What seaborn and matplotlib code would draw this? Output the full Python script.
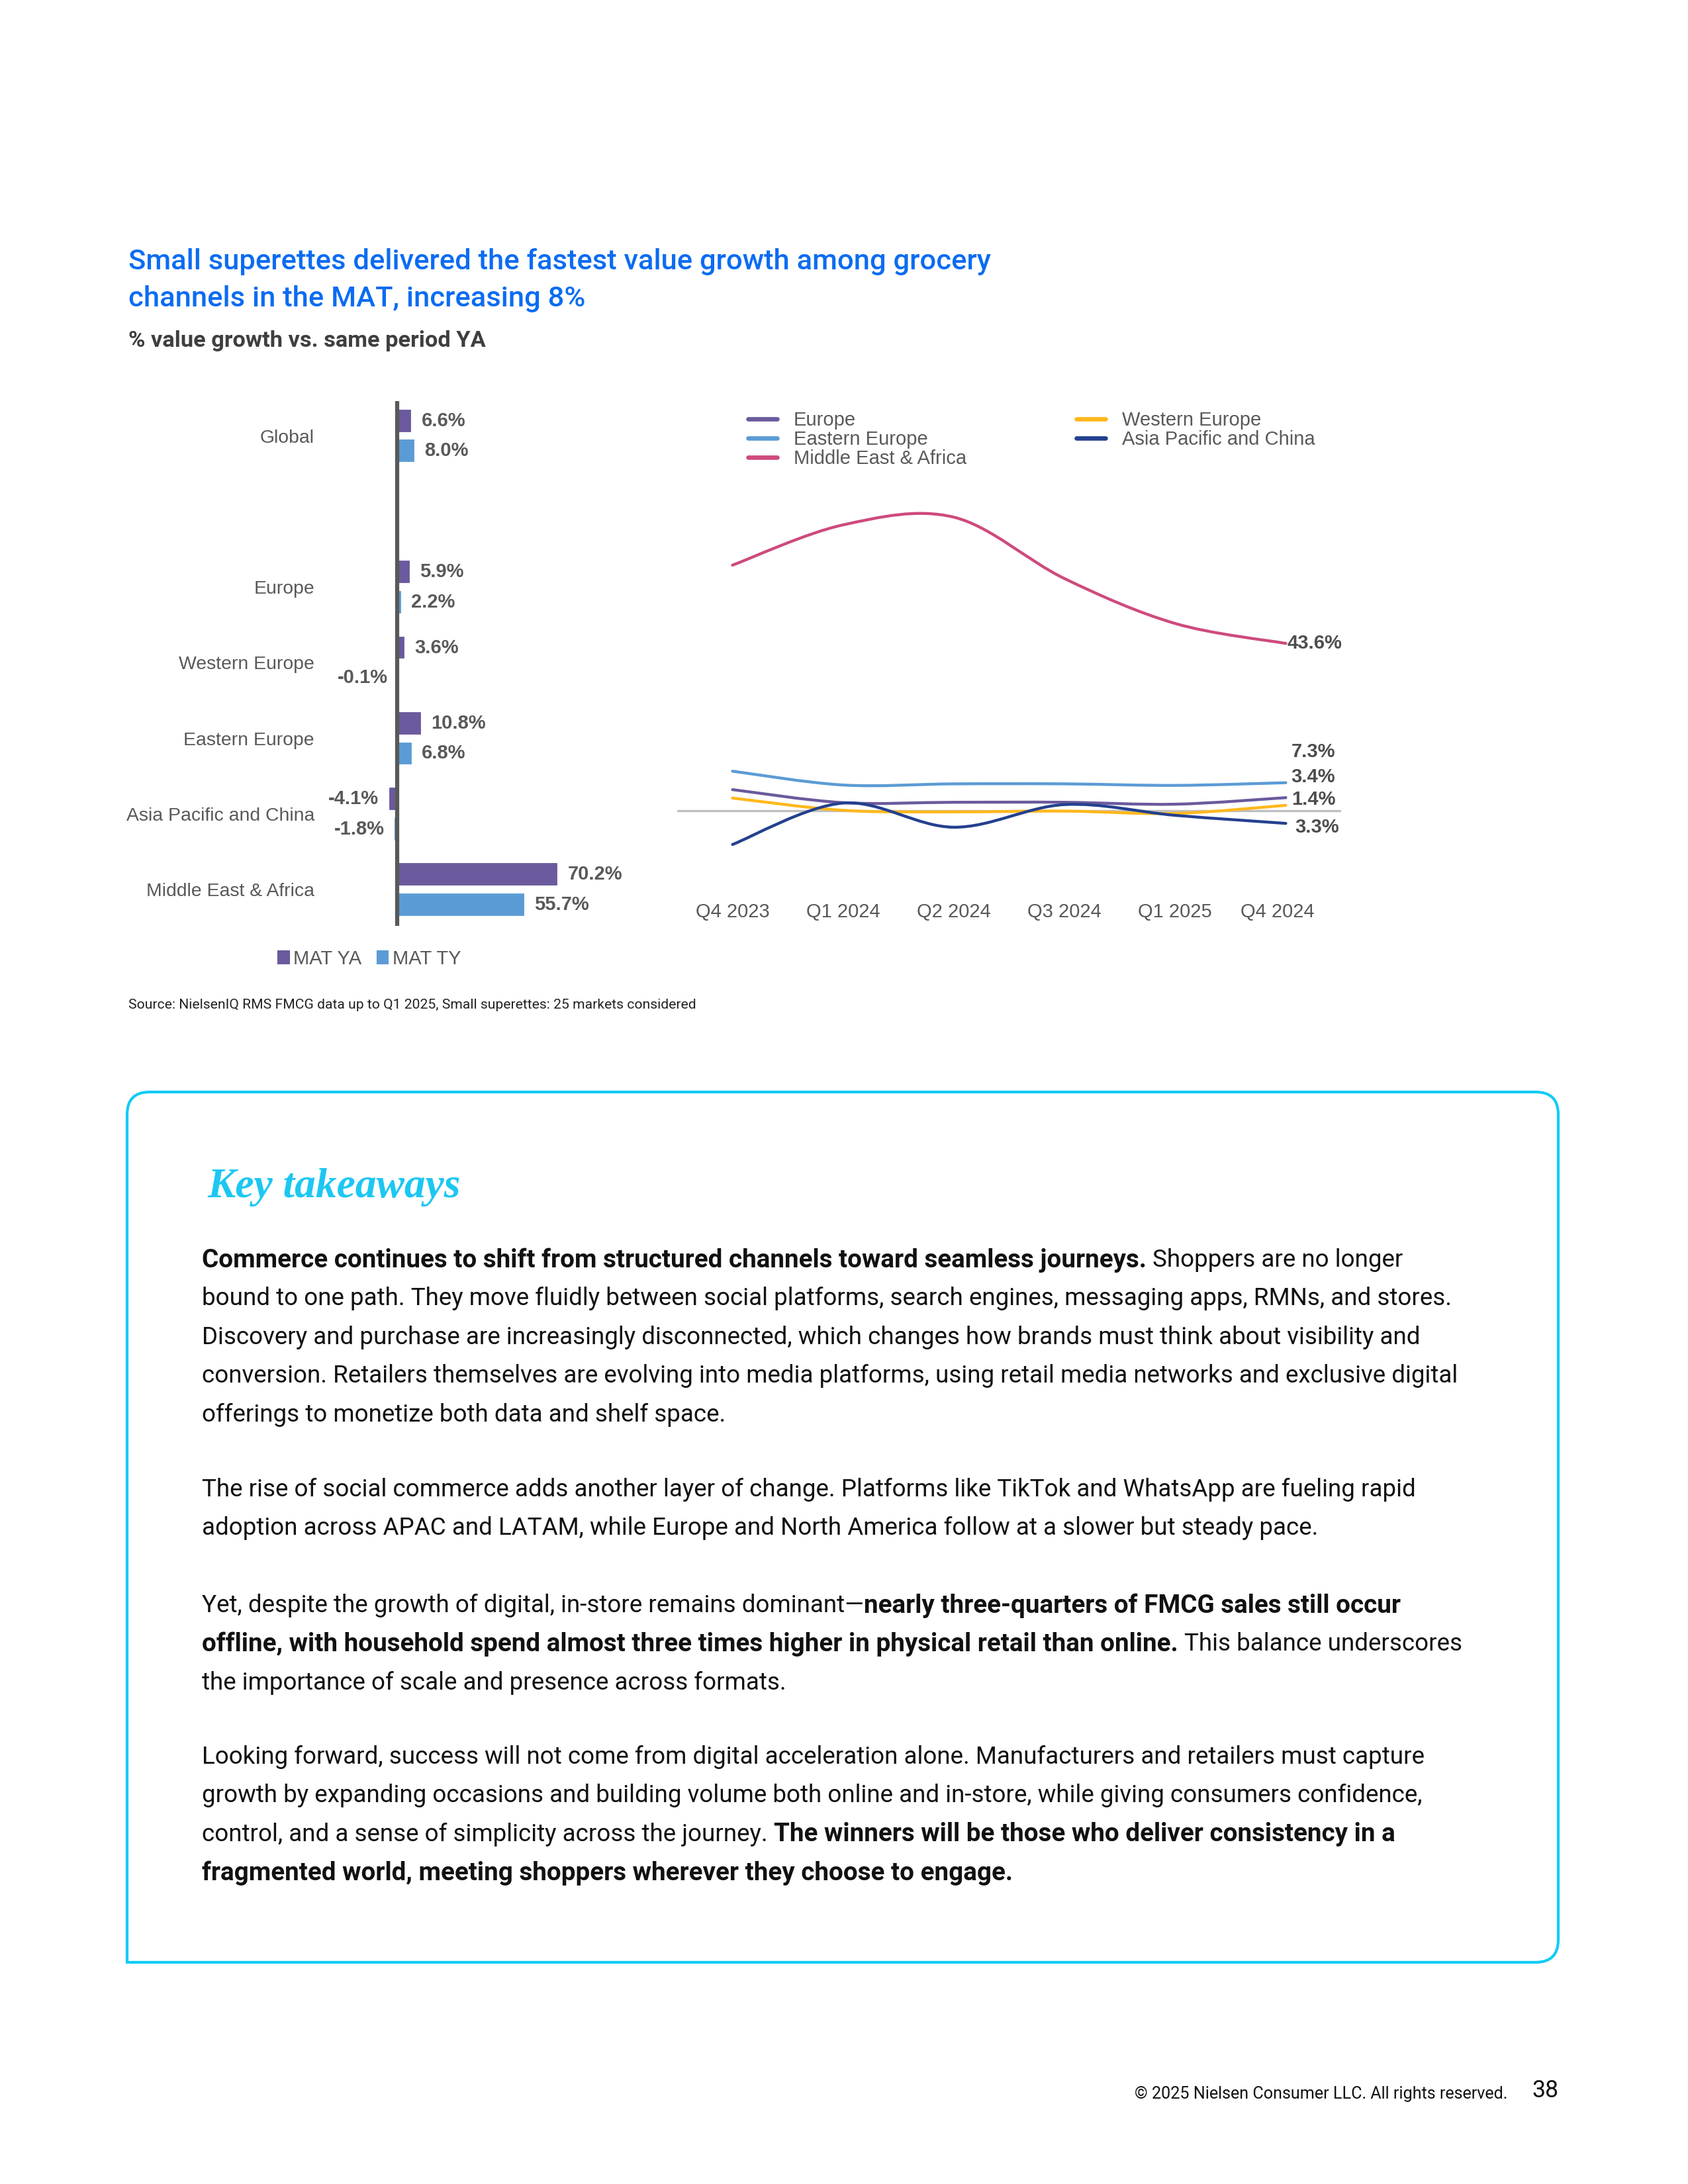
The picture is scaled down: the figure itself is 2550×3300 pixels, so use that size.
import numpy as np
import pandas as pd
import seaborn as sns
import matplotlib.pyplot as plt
from matplotlib.path import Path
from matplotlib.patches import PathPatch, Patch
from matplotlib.lines import Line2D
from matplotlib.transforms import ScaledTranslation

# ---- bar chart data (% value growth, small superettes) ----
regions = ['Global', 'Europe', 'Western Europe', 'Eastern Europe',
           'Asia Pacific and China', 'Middle East & Africa']
mat_ya = [6.6, 5.9, 3.6, 10.8, -4.1, 70.2]
mat_ty = [8.0, 2.2, -0.1, 6.8, -1.8, 55.7]
periods = ['MAT YA', 'MAT TY']

# ---- line chart data (quarterly growth) ----
quarters = ['Q4 2023', 'Q1 2024', 'Q2 2024', 'Q3 2024', 'Q1 2025', 'Q4 2024']
europe = [5.5, 2.1, 2.2, 2.2, 1.7, 3.4]
western_europe = [3.3, 0.1, -0.3, -0.1, -0.7, 1.4]
eastern_europe = [10.3, 6.7, 7.0, 7.0, 6.6, 7.3]
asia_pacific = [-8.8, 2.0, -4.3, 1.6, -1.2, -3.3]
middle_east_africa = [64.0, 74.5, 76.5, 60.5, 48.8, 43.6]
end_labels = ['3.4%', '1.4%', '7.3%', '3.3%', '43.6%']   # as printed on the chart

purple = '#6B5A9D'
lblue = '#5B9BD5'
pink = '#CE4A7E'
gold = '#FFB81C'
navy = '#24408E'
grey_txt = '#595959'

sns.set_theme(style='white')
plt.rcParams['font.family'] = ['Liberation Sans', 'DejaVu Sans']

W, H = 2550, 3300
fig = plt.figure(figsize=(8.5, 11), dpi=300)
fig.patch.set_facecolor('white')


def px_box(l, t, r, b):
    return [l / W, 1 - b / H, (r - l) / W, (b - t) / H]


# page layer in pixel units for the text and the box
page = fig.add_axes([0, 0, 1, 1])
page.set_xlim(0, W)
page.set_ylim(H, 0)
page.axis('off')
renderer = fig.canvas.get_renderer()


def fitted_text(x, y, s, width, **kw):
    t = page.text(x, y, s, fontsize=10, **kw)
    w = t.get_window_extent(renderer).width
    t.set_fontsize(10 * width / w)
    return t


# ---- titles ----
blue = '#0B6CF2'
t1 = fitted_text(194, 395, 'Small superettes delivered the fastest value growth among grocery', 1298,
                 family='Roboto', weight='medium', color=blue, va='center')
page.text(194, 452, 'channels in the MAT, increasing 8%', fontsize=t1.get_fontsize(),
          family='Roboto', weight='medium', color=blue, va='center')
fitted_text(194, 515, '% value growth vs. same period YA', 539,
            family='Roboto', weight='bold', color='#3F3F3F', va='center')

# ---- bar chart ----
ax1 = fig.add_axes(px_box(480, 606, 960, 1399))
bar_df = pd.DataFrame({'region': regions * 2,
                       'period': [periods[0]] * len(regions) + [periods[1]] * len(regions),
                       'value': mat_ya + mat_ty})
order = regions[:1] + [' '] + regions[1:]
sns.barplot(data=bar_df, x='value', y='region', hue='period', order=order, hue_order=periods,
            palette=[purple, lblue], orient='h', width=0.8, gap=0.17, errorbar=None,
            saturation=1, legend=False, ax=ax1)
ax1.set_xlim(-34.5, 103.4)
ax1.set_ylim(6.48, -0.46)
ax1.set_xlabel('')
ax1.set_ylabel('')
ax1.xaxis.set_visible(False)
ax1.tick_params(axis='y', length=0, pad=1.2, labelsize=6.8, labelcolor=grey_txt)
sns.despine(ax=ax1, left=True, bottom=True)
ax1.axvline(0, color=grey_txt, lw=1.5, zorder=3)
for cont in ax1.containers:
    ax1.bar_label(cont, fmt='{:.1f}%', padding=3.2, fontsize=7, fontweight='bold', color=grey_txt)

fig.legend(handles=[Patch(color=purple, label=periods[0]), Patch(color=lblue, label=periods[1])],
           ncol=2, loc='center left', bbox_to_anchor=(421 / W, 1 - 1449 / H), frameon=False,
           fontsize=7, labelcolor=grey_txt, handlelength=0.5, handleheight=0.5,
           handletextpad=0.25, columnspacing=0.85, borderpad=0, borderaxespad=0)

# ---- line chart ----
ax2 = fig.add_axes(px_box(1023, 720, 2026, 1345))
ax2.set_xlim(-0.5, 5.5)
ax2.set_ylim(-20.7, 87.1)
ax2.axhline(0, color='#BFBFBF', lw=0.8, zorder=1)


def smooth_path(xs, ys):
    # Excel style smoothed line: cubic Bezier through every point
    pts = np.column_stack([xs, ys]).astype(float)
    p = np.vstack([pts[0], pts, pts[-1]])
    verts, codes = [pts[0]], [Path.MOVETO]
    for i in range(1, len(p) - 2):
        verts += [p[i] + (p[i + 1] - p[i - 1]) / 6, p[i + 1] - (p[i + 2] - p[i]) / 6, p[i + 1]]
        codes += [Path.CURVE4] * 3
    return Path(verts, codes)


xs = np.arange(len(quarters))
series = [('Europe', europe, purple), ('Western Europe', western_europe, gold),
          ('Eastern Europe', eastern_europe, lblue), ('Asia Pacific and China', asia_pacific, navy),
          ('Middle East & Africa', middle_east_africa, pink)]
label_offsets = [(2, 7.4), (2, 2.2), (2, 11.3), (3.3, -1.4), (0.5, 0)]
for (name, vals, col), lab, off in zip(series, end_labels, label_offsets):
    ax2.add_patch(PathPatch(smooth_path(xs, vals), fill=False, edgecolor=col, lw=1.05,
                            capstyle='round', joinstyle='round', zorder=2))
    ax2.annotate(lab, xy=(xs[-1], vals[-1]), xytext=off, textcoords='offset points',
                 ha='left', va='center', fontsize=7, fontweight='bold', color='#4D4D4D')

ax2.set_xticks(xs)
ax2.set_xticklabels(quarters)
ax2.tick_params(axis='x', length=0, pad=4.5, labelsize=7, labelcolor=grey_txt)
ax2.set_yticks([])
last = ax2.get_xticklabels()[-1]
last.set_transform(last.get_transform() + ScaledTranslation(-3 / 72, 0, fig.dpi_scale_trans))
sns.despine(ax=ax2, left=True, bottom=True)

leg_items = [series[0], series[2], series[4], series[1], series[3]]
fig.legend(handles=[Line2D([], [], color=c, lw=1.6, label=n) for n, v, c in leg_items],
           ncol=2, loc='upper left', bbox_to_anchor=(1130 / W, 1 - 621 / H), frameon=False,
           fontsize=7, labelcolor=grey_txt, handlelength=1.5, handletextpad=0.86,
           columnspacing=5.7, labelspacing=0.03, borderpad=0, borderaxespad=0)

# ---- source ----
fitted_text(194, 1519, 'Source: NielsenIQ RMS FMCG data up to Q1 2025, Small superettes: 25 markets considered',
            854, family='Roboto', color='#222222', va='center')

# ---- key takeaways box ----
cyan = '#12CCF5'
L, T, R, B, rad = 192, 1650, 2354, 2965, 34
box_path = Path([(L, B), (L, T + rad), (L, T), (L + rad, T), (R - rad, T), (R, T), (R, T + rad),
                 (R, B - rad), (R, B), (R - rad, B), (L, B)],
                [Path.MOVETO, Path.LINETO, Path.CURVE3, Path.CURVE3, Path.LINETO, Path.CURVE3,
                 Path.CURVE3, Path.LINETO, Path.CURVE3, Path.CURVE3, Path.CLOSEPOLY])
page.add_patch(PathPatch(box_path, fill=False, edgecolor=cyan, lw=1.0, joinstyle='miter'))

fitted_text(313, 1794, 'Key takeaways', 383, family='Liberation Serif', weight='bold',
            style='italic', color='#1CC7F2', va='center')

paragraphs = [
    [[('Commerce continues to shift from structured channels toward seamless journeys.', True),
      (' Shoppers are no longer', False)],
     [('bound to one path. They move fluidly between social platforms, search engines, messaging apps, RMNs, and stores.', False)],
     [('Discovery and purchase are increasingly disconnected, which changes how brands must think about visibility and', False)],
     [('conversion. Retailers themselves are evolving into media platforms, using retail media networks and exclusive digital', False)],
     [('offerings to monetize both data and shelf space.', False)]],
    [[('The rise of social commerce adds another layer of change. Platforms like TikTok and WhatsApp are fueling rapid', False)],
     [('adoption across APAC and LATAM, while Europe and North America follow at a slower but steady pace.', False)]],
    [[('Yet, despite the growth of digital, in-store remains dominant\u2014', False),
      ('nearly three-quarters of FMCG sales still occur', True)],
     [('offline, with household spend almost three times higher in physical retail than online.', True),
      (' This balance underscores', False)],
     [('the importance of scale and presence across formats.', False)]],
    [[('Looking forward, success will not come from digital acceleration alone. Manufacturers and retailers must capture', False)],
     [('growth by expanding occasions and building volume both online and in-store, while giving consumers confidence,', False)],
     [('control, and a sense of simplicity across the journey.', False),
      (' The winners will be those who deliver consistency in a', True)],
     [('fragmented world, meeting shoppers wherever they choose to engage.', True)]],
]
para_tops = [1900, 2247, 2422, 2651]
line_step = 58.4
body_x = 305

probe = fitted_text(0, -500, paragraphs[0][1][0][0], 1887, family='Roboto')
body_size = probe.get_fontsize()
probe.remove()
bold_size = body_size * 1.05
sp = page.text(0, -500, 'x x', fontsize=body_size, family='Roboto')
sp2 = page.text(0, -500, 'xx', fontsize=body_size, family='Roboto')
space_w = sp.get_window_extent(renderer).width - sp2.get_window_extent(renderer).width
sp.remove()
sp2.remove()

for top, lines in zip(para_tops, paragraphs):
    for i, parts in enumerate(lines):
        x = body_x
        y = top + i * line_step
        for s, bold in parts:
            if s.startswith(' '):
                x += space_w
                s = s.lstrip()
            t = page.text(x, y, s, fontsize=bold_size if bold else body_size, family='Roboto',
                          weight='bold' if bold else 'normal', color='#111111', va='center_baseline')
            x += t.get_window_extent(renderer).width

# ---- footer ----
fitted_text(2277, 3164, '\u00a9 2025 Nielsen Consumer LLC. All rights reserved.', 562,
            family='Roboto', color='#111111', ha='right', va='center')
fitted_text(2314, 3159, '38', 40, family='Roboto', color='#111111', va='center')

fig.savefig('out.png', dpi=300, facecolor='white')
